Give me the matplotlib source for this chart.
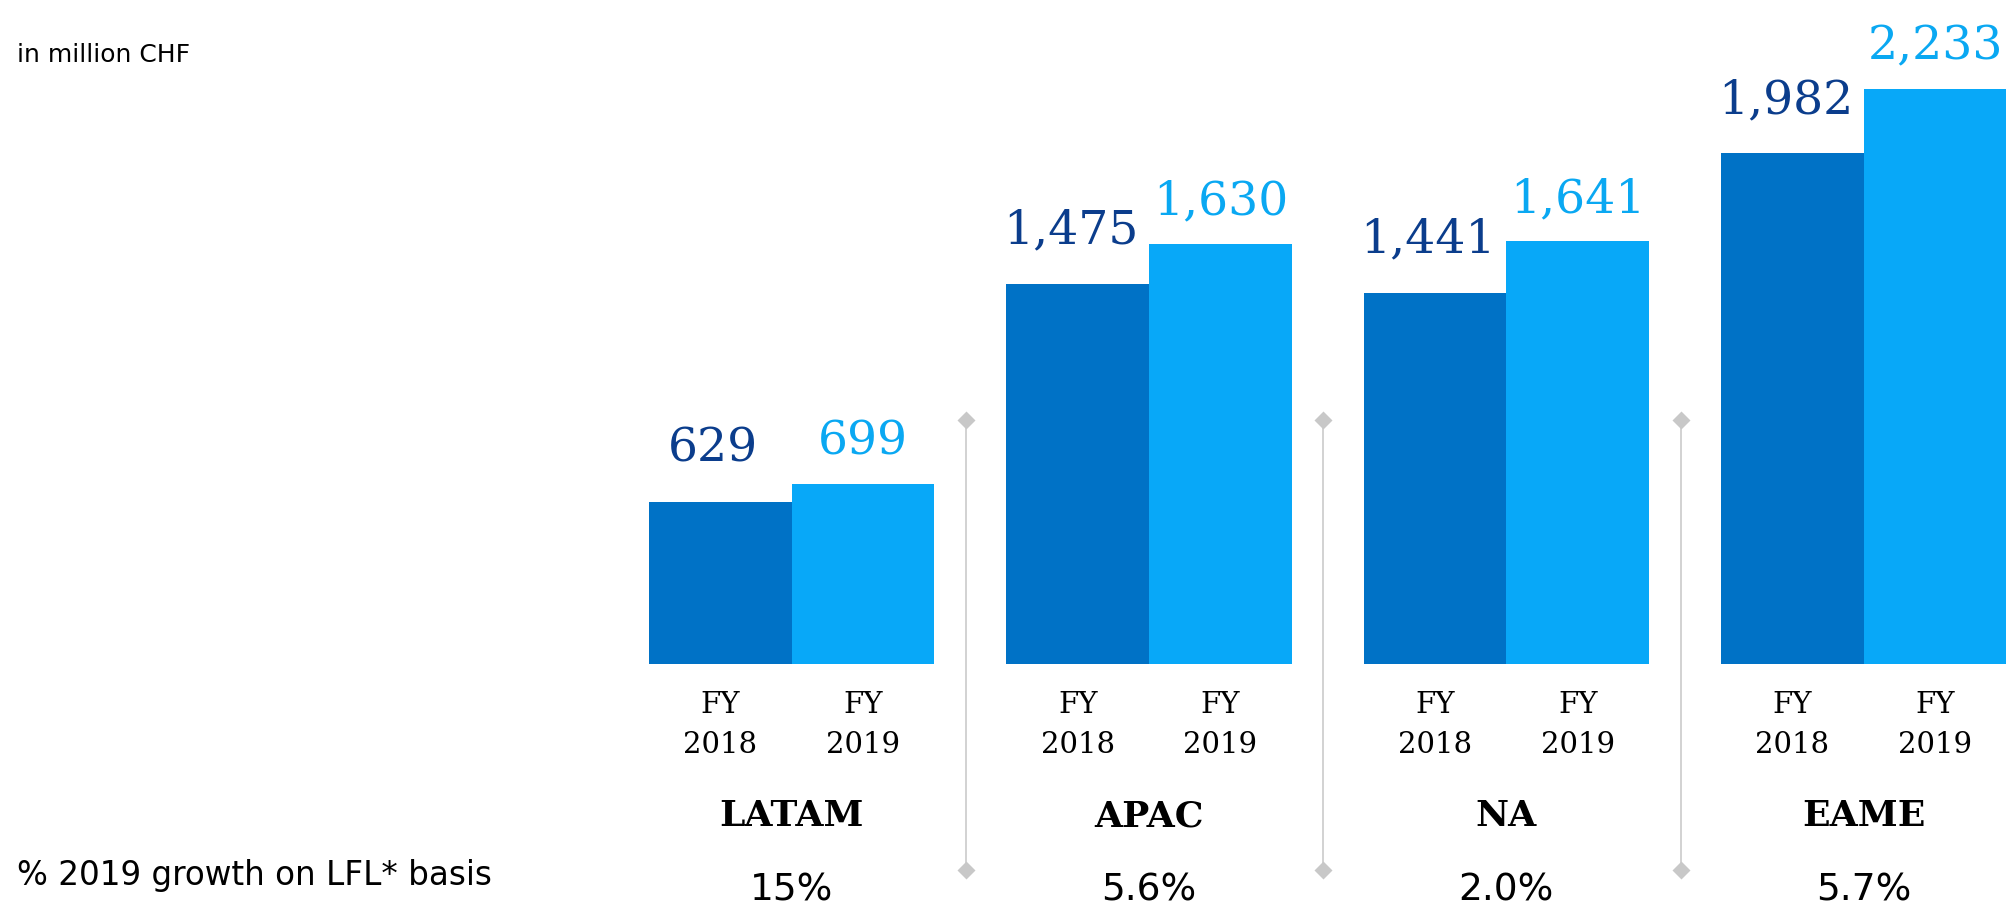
import matplotlib
matplotlib.use("Agg")
import matplotlib.pyplot as plt
import numpy as np

# sales by region, in million CHF
regions = ["LATAM", "APAC", "NA", "EAME"]
fy2018 = [629, 1475, 1441, 1982]
fy2019 = [699, 1630, 1641, 2233]
growth = ["15%", "5.6%", "2.0%", "5.7%"]
years = ["2018", "2019"]

dark = "#0072c6"
light = "#08a8f8"
dark_txt = "#0b3d8c"
light_txt = "#0aa8f2"
grey = "#cfcfcf"

W, H = 2010, 905
fig = plt.figure(figsize=(W / 100, H / 100), dpi=100)
ax = fig.add_axes([0, 0, 1, 1])
ax.axis("off")

# one bar = 1 unit, groups 2.5 units apart
pitch = 2.504
left = np.arange(len(regions)) * pitch
ax.set_xlim(-4.548, 9.537)
ax.set_ylim(-935, 2577)

ax.bar(left + 0.5, fy2018, width=1.0, color=dark, linewidth=0)
ax.bar(left + 1.5, fy2019, width=1.0, color=light, linewidth=0)

for i in range(len(regions)):
    ax.annotate(f"{fy2018[i]:,}", (left[i] + 0.5, fy2018[i]), xytext=(-5, 29),
                textcoords="offset points", ha="center", va="baseline",
                family="DejaVu Serif", fontsize=34, color=dark_txt)
    ax.annotate(f"{fy2019[i]:,}", (left[i] + 1.5, fy2019[i]), xytext=(0, 21),
                textcoords="offset points", ha="center", va="baseline",
                family="DejaVu Serif", fontsize=34, color=light_txt)

tx = ax.get_xaxis_transform()
for i in range(len(regions)):
    for j, yr in enumerate(years):
        xc = left[i] + 0.5 + j
        ax.text(xc, 1 - 705 / H, "FY", transform=tx, ha="center", va="center",
                family="DejaVu Serif", fontsize=21)
        ax.text(xc, 1 - 745 / H, yr, transform=tx, ha="center", va="center",
                family="DejaVu Serif", fontsize=21)
    ax.text(left[i] + 1.0, 1 - 816 / H, regions[i], transform=tx, ha="center",
            va="center", family="DejaVu Serif", fontweight="bold", fontsize=26)
    ax.text(left[i] + 1.0, 1 - 900 / H, growth[i], transform=tx, ha="center",
            va="baseline", family="DejaVu Sans", fontsize=27)

# separators between regions
for i in range(len(regions) - 1):
    xs = left[i] + 2 + (pitch - 2) / 2 - 0.03
    ax.plot([xs, xs], [1 - 420 / H, 1 - 870 / H], transform=tx, color=grey,
            lw=1.3, marker="D", ms=9, mfc="#c8c8c8", mec="none")

fig.text(17 / W, 1 - 62 / H, "in million CHF", ha="left", va="baseline",
         family="DejaVu Sans", fontsize=18)
fig.text(17 / W, 1 - 885 / H, "% 2019 growth on LFL* basis", ha="left",
         va="baseline", family="DejaVu Sans", fontsize=23.5)

fig.savefig("out.png", dpi=100)
